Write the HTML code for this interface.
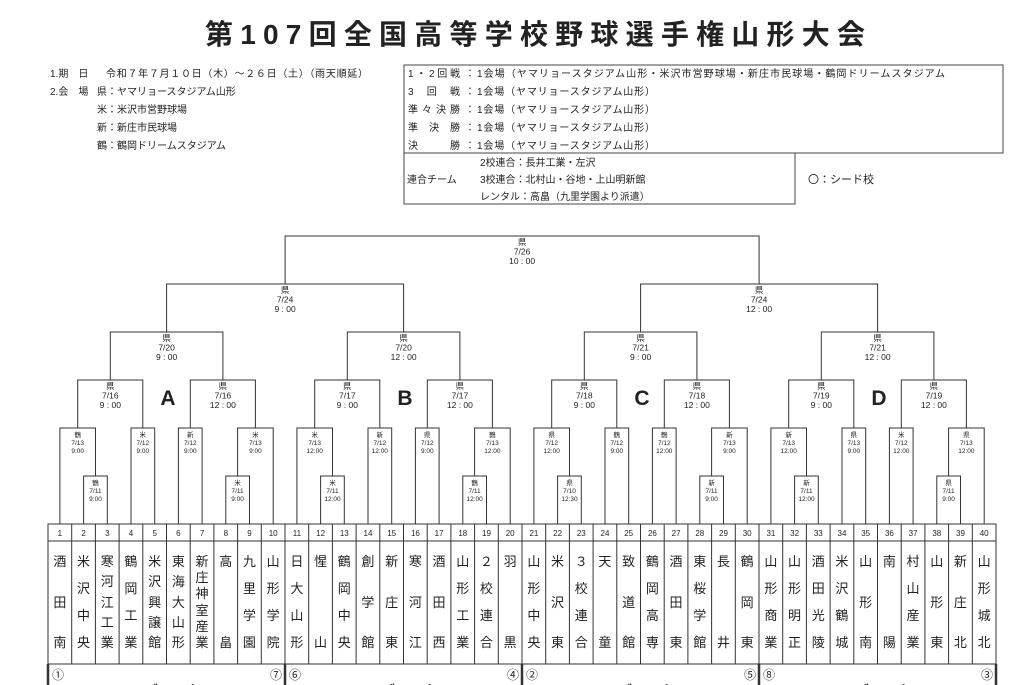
<!DOCTYPE html>
<html><head><meta charset="utf-8">
<style>
html,body{margin:0;padding:0;background:#fff;}
body{width:1030px;height:685px;overflow:hidden;position:relative;font-family:"Liberation Sans","Noto Sans CJK JP",sans-serif;color:#222;}
svg{position:absolute;left:0;top:0;}
svg text{font-family:"Liberation Sans","Noto Sans CJK JP",sans-serif;fill:#222;}
.s{font-size:6.5px;text-anchor:middle;}
.m{font-size:8.5px;text-anchor:middle;}
.num{font-size:8px;text-anchor:middle;}
.t{font-size:10px;}
.c{position:absolute;top:555px;height:95px;width:23.7px;display:flex;flex-direction:column;justify-content:space-between;align-items:center;font-size:13px;line-height:14px;}
.c i{font-style:normal;display:block;}
</style></head><body>
<svg width="1030" height="685" viewBox="0 0 1030 685">
<text x="205" y="44" font-size="28" font-weight="bold" textLength="660" lengthAdjust="spacing">第107回全国高等学校野球選手権山形大会</text>

<g class="t">
<text class="t" x="50" y="77">1.期　日</text>
<text class="t" x="106" y="77" textLength="262" lengthAdjust="spacing">令和７年７月１０日（木）～２６日（土）（雨天順延）</text>
<text class="t" x="50" y="95">2.会　場</text>
<text class="t" x="97" y="95">県：ヤマリョースタジアム山形</text>
<text class="t" x="97" y="113">米：米沢市営野球場</text>
<text class="t" x="97" y="131">新：新庄市民球場</text>
<text class="t" x="97" y="149">鶴：鶴岡ドリームスタジアム</text>
</g>

<path d="M404 65H1003V153H404Z M404 153V204H795V153" fill="none" stroke="#444" stroke-width="1"/>
<text class="t" x="408" y="77" textLength="52" lengthAdjust="spacing">1・2回戦</text>
<text class="t" x="408" y="95" textLength="52" lengthAdjust="spacing">3　回　戦</text>
<text class="t" x="408" y="113" textLength="52" lengthAdjust="spacing">準々決勝</text>
<text class="t" x="408" y="131" textLength="52" lengthAdjust="spacing">準　決　勝</text>
<text class="t" x="408" y="149" textLength="52" lengthAdjust="spacing">決　　　勝</text>
<text class="t" x="465" y="77">：</text><text class="t" x="465" y="95">：</text><text class="t" x="465" y="113">：</text><text class="t" x="465" y="131">：</text><text class="t" x="465" y="149">：</text>
<text class="t" x="477" y="77" textLength="468" lengthAdjust="spacing">1会場（ヤマリョースタジアム山形・米沢市営野球場・新庄市民球場・鶴岡ドリームスタジアム</text>
<text class="t" x="477" y="95" textLength="178" lengthAdjust="spacing">1会場（ヤマリョースタジアム山形）</text>
<text class="t" x="477" y="113" textLength="178" lengthAdjust="spacing">1会場（ヤマリョースタジアム山形）</text>
<text class="t" x="477" y="131" textLength="178" lengthAdjust="spacing">1会場（ヤマリョースタジアム山形）</text>
<text class="t" x="477" y="149" textLength="178" lengthAdjust="spacing">1会場（ヤマリョースタジアム山形）</text>
<text class="t" x="407" y="183">連合チーム</text>
<text class="t" x="480" y="166">2校連合：長井工業・左沢</text>
<text class="t" x="480" y="183">3校連合：北村山・谷地・上山明新館</text>
<text class="t" x="480" y="200">レンタル：高畠（九里学園より派遣）</text>
<text x="808" y="183" font-size="11">〇：シード校</text>

<g fill="none" stroke="#333" stroke-width="1">
<path id="gA" d="M83.6 524V476H107.3V524 M225.8 524V476H249.5V524 M59.9 524V428H95.5V476 M131 524V428H154.7V524 M178.4 524V428H202.1V524 M237.6 476V428H273.2V524 M77.7 428V380H142.8V428 M190.3 428V380H255.4V428 M110.3 380V332H222.9V380"/>
<use href="#gA" transform="translate(237,0)"/>
<use href="#gA" transform="translate(474,0)"/>
<use href="#gA" transform="translate(711,0)"/>
<path d="M166.6 332V284H403.6V332 M640.6 332V284H877.6V332 M285.1 284V236H759.1V284"/>
<path d="M48 524H996V664H48Z M48 541H996 M71.7 524V664 M95.4 524V664 M119.1 524V664 M142.8 524V664 M166.5 524V664 M190.2 524V664 M213.9 524V664 M237.6 524V664 M261.3 524V664 M285 524V664 M308.7 524V664 M332.4 524V664 M356.1 524V664 M379.8 524V664 M403.5 524V664 M427.2 524V664 M450.9 524V664 M474.6 524V664 M498.3 524V664 M522 524V664 M545.7 524V664 M569.4 524V664 M593.1 524V664 M616.8 524V664 M640.5 524V664 M664.2 524V664 M687.9 524V664 M711.6 524V664 M735.3 524V664 M759 524V664 M782.7 524V664 M806.4 524V664 M830.1 524V664 M853.8 524V664 M877.5 524V664 M901.2 524V664 M924.9 524V664 M948.6 524V664 M972.3 524V664"/>
<path d="M48 664V685 M285 664V685 M522 664V685 M759 664V685 M996 664V685" stroke-width="2.5"/>
</g>

<g font-size="21" font-weight="bold" text-anchor="middle">
<text x="168" y="405">A</text><text x="405" y="405">B</text><text x="642" y="405">C</text><text x="879" y="405">D</text>
</g>

<text class="m" x="522.1" y="245">県<tspan x="522.1" dy="9.5">7/26</tspan><tspan x="522.1" dy="9.5">10 : 00</tspan></text>
<text class="m" x="285.1" y="293">県<tspan x="285.1" dy="9.5">7/24</tspan><tspan x="285.1" dy="9.5">9 : 00</tspan></text>
<text class="m" x="759.1" y="293">県<tspan x="759.1" dy="9.5">7/24</tspan><tspan x="759.1" dy="9.5">12 : 00</tspan></text>
<text class="m" x="166.6" y="341">県<tspan x="166.6" dy="9.5">7/20</tspan><tspan x="166.6" dy="9.5">9 : 00</tspan></text>
<text class="m" x="403.6" y="341">県<tspan x="403.6" dy="9.5">7/20</tspan><tspan x="403.6" dy="9.5">12 : 00</tspan></text>
<text class="m" x="640.6" y="341">県<tspan x="640.6" dy="9.5">7/21</tspan><tspan x="640.6" dy="9.5">9 : 00</tspan></text>
<text class="m" x="877.6" y="341">県<tspan x="877.6" dy="9.5">7/21</tspan><tspan x="877.6" dy="9.5">12 : 00</tspan></text>
<text class="m" x="110.3" y="389">県<tspan x="110.3" dy="9.5">7/16</tspan><tspan x="110.3" dy="9.5">9 : 00</tspan></text>
<text class="m" x="222.9" y="389">県<tspan x="222.9" dy="9.5">7/16</tspan><tspan x="222.9" dy="9.5">12 : 00</tspan></text>
<text class="m" x="347.3" y="389">県<tspan x="347.3" dy="9.5">7/17</tspan><tspan x="347.3" dy="9.5">9 : 00</tspan></text>
<text class="m" x="459.9" y="389">県<tspan x="459.9" dy="9.5">7/17</tspan><tspan x="459.9" dy="9.5">12 : 00</tspan></text>
<text class="m" x="584.3" y="389">県<tspan x="584.3" dy="9.5">7/18</tspan><tspan x="584.3" dy="9.5">9 : 00</tspan></text>
<text class="m" x="696.9" y="389">県<tspan x="696.9" dy="9.5">7/18</tspan><tspan x="696.9" dy="9.5">12 : 00</tspan></text>
<text class="m" x="821.3" y="389">県<tspan x="821.3" dy="9.5">7/19</tspan><tspan x="821.3" dy="9.5">9 : 00</tspan></text>
<text class="m" x="933.9" y="389">県<tspan x="933.9" dy="9.5">7/19</tspan><tspan x="933.9" dy="9.5">12 : 00</tspan></text>
<text class="s" x="77.7" y="437">鶴<tspan x="77.7" dy="8">7/13</tspan><tspan x="77.7" dy="8">9:00</tspan></text>
<text class="s" x="142.8" y="437">米<tspan x="142.8" dy="8">7/12</tspan><tspan x="142.8" dy="8">9:00</tspan></text>
<text class="s" x="190.3" y="437">新<tspan x="190.3" dy="8">7/12</tspan><tspan x="190.3" dy="8">9:00</tspan></text>
<text class="s" x="255.4" y="437">米<tspan x="255.4" dy="8">7/13</tspan><tspan x="255.4" dy="8">9:00</tspan></text>
<text class="s" x="314.7" y="437">米<tspan x="314.7" dy="8">7/13</tspan><tspan x="314.7" dy="8">12:00</tspan></text>
<text class="s" x="379.8" y="437">新<tspan x="379.8" dy="8">7/12</tspan><tspan x="379.8" dy="8">12:00</tspan></text>
<text class="s" x="427.3" y="437">県<tspan x="427.3" dy="8">7/12</tspan><tspan x="427.3" dy="8">9:00</tspan></text>
<text class="s" x="492.4" y="437">鶴<tspan x="492.4" dy="8">7/13</tspan><tspan x="492.4" dy="8">12:00</tspan></text>
<text class="s" x="551.7" y="437">県<tspan x="551.7" dy="8">7/12</tspan><tspan x="551.7" dy="8">12:00</tspan></text>
<text class="s" x="616.8" y="437">鶴<tspan x="616.8" dy="8">7/12</tspan><tspan x="616.8" dy="8">9:00</tspan></text>
<text class="s" x="664.3" y="437">鶴<tspan x="664.3" dy="8">7/12</tspan><tspan x="664.3" dy="8">12:00</tspan></text>
<text class="s" x="729.4" y="437">新<tspan x="729.4" dy="8">7/13</tspan><tspan x="729.4" dy="8">9:00</tspan></text>
<text class="s" x="788.7" y="437">新<tspan x="788.7" dy="8">7/13</tspan><tspan x="788.7" dy="8">12:00</tspan></text>
<text class="s" x="853.8" y="437">県<tspan x="853.8" dy="8">7/13</tspan><tspan x="853.8" dy="8">9:00</tspan></text>
<text class="s" x="901.3" y="437">米<tspan x="901.3" dy="8">7/12</tspan><tspan x="901.3" dy="8">12:00</tspan></text>
<text class="s" x="966.4" y="437">県<tspan x="966.4" dy="8">7/13</tspan><tspan x="966.4" dy="8">12:00</tspan></text>
<text class="s" x="95.5" y="485">鶴<tspan x="95.5" dy="8">7/11</tspan><tspan x="95.5" dy="8">9:00</tspan></text>
<text class="s" x="237.6" y="485">米<tspan x="237.6" dy="8">7/11</tspan><tspan x="237.6" dy="8">9:00</tspan></text>
<text class="s" x="332.5" y="485">米<tspan x="332.5" dy="8">7/11</tspan><tspan x="332.5" dy="8">12:00</tspan></text>
<text class="s" x="474.6" y="485">鶴<tspan x="474.6" dy="8">7/11</tspan><tspan x="474.6" dy="8">12:00</tspan></text>
<text class="s" x="569.5" y="485">県<tspan x="569.5" dy="8">7/10</tspan><tspan x="569.5" dy="8">12:30</tspan></text>
<text class="s" x="711.6" y="485">新<tspan x="711.6" dy="8">7/11</tspan><tspan x="711.6" dy="8">9:00</tspan></text>
<text class="s" x="806.5" y="485">新<tspan x="806.5" dy="8">7/11</tspan><tspan x="806.5" dy="8">12:00</tspan></text>
<text class="s" x="948.6" y="485">県<tspan x="948.6" dy="8">7/11</tspan><tspan x="948.6" dy="8">9:00</tspan></text>

<g class="num">
<text class="num" x="59.9" y="536">1</text><text class="num" x="83.6" y="536">2</text><text class="num" x="107.3" y="536">3</text><text class="num" x="131" y="536">4</text><text class="num" x="154.7" y="536">5</text><text class="num" x="178.4" y="536">6</text><text class="num" x="202.1" y="536">7</text><text class="num" x="225.8" y="536">8</text><text class="num" x="249.5" y="536">9</text><text class="num" x="273.2" y="536">10</text>
<text class="num" x="296.9" y="536">11</text><text class="num" x="320.6" y="536">12</text><text class="num" x="344.3" y="536">13</text><text class="num" x="368" y="536">14</text><text class="num" x="391.7" y="536">15</text><text class="num" x="415.4" y="536">16</text><text class="num" x="439.1" y="536">17</text><text class="num" x="462.8" y="536">18</text><text class="num" x="486.5" y="536">19</text><text class="num" x="510.2" y="536">20</text>
<text class="num" x="533.9" y="536">21</text><text class="num" x="557.6" y="536">22</text><text class="num" x="581.3" y="536">23</text><text class="num" x="605" y="536">24</text><text class="num" x="628.7" y="536">25</text><text class="num" x="652.4" y="536">26</text><text class="num" x="676.1" y="536">27</text><text class="num" x="699.8" y="536">28</text><text class="num" x="723.5" y="536">29</text><text class="num" x="747.2" y="536">30</text>
<text class="num" x="770.9" y="536">31</text><text class="num" x="794.6" y="536">32</text><text class="num" x="818.3" y="536">33</text><text class="num" x="842" y="536">34</text><text class="num" x="865.7" y="536">35</text><text class="num" x="889.4" y="536">36</text><text class="num" x="913.1" y="536">37</text><text class="num" x="936.8" y="536">38</text><text class="num" x="960.5" y="536">39</text><text class="num" x="984.2" y="536">40</text>
</g>

<g font-size="12">
<text x="52" y="679">①</text><text x="270" y="679">⑦</text>
<text x="289" y="679">⑥</text><text x="507" y="679">④</text>
<text x="526" y="679">②</text><text x="744" y="679">⑤</text>
<text x="763" y="679">⑧</text><text x="981" y="679">③</text>
</g>
<g font-size="14" font-weight="bold" text-anchor="middle">
<text x="167" y="696">Aブロック</text><text x="404" y="696">Bブロック</text><text x="641" y="696">Cブロック</text><text x="878" y="696">Dブロック</text>
</g>
</svg>

<div class="c" style="left:48px"><i>酒</i><i>田</i><i>南</i></div>
<div class="c" style="left:71.7px"><i>米</i><i>沢</i><i>中</i><i>央</i></div>
<div class="c" style="left:95.4px"><i>寒</i><i>河</i><i>江</i><i>工</i><i>業</i></div>
<div class="c" style="left:119.1px"><i>鶴</i><i>岡</i><i>工</i><i>業</i></div>
<div class="c" style="left:142.8px"><i>米</i><i>沢</i><i>興</i><i>譲</i><i>館</i></div>
<div class="c" style="left:166.5px"><i>東</i><i>海</i><i>大</i><i>山</i><i>形</i></div>
<div class="c" style="left:190.2px"><i>新</i><i>庄</i><i>神</i><i>室</i><i>産</i><i>業</i></div>
<div class="c" style="left:213.9px"><i>高</i><i>畠</i></div>
<div class="c" style="left:237.6px"><i>九</i><i>里</i><i>学</i><i>園</i></div>
<div class="c" style="left:261.3px"><i>山</i><i>形</i><i>学</i><i>院</i></div>
<div class="c" style="left:285px"><i>日</i><i>大</i><i>山</i><i>形</i></div>
<div class="c" style="left:308.7px"><i>惺</i><i>山</i></div>
<div class="c" style="left:332.4px"><i>鶴</i><i>岡</i><i>中</i><i>央</i></div>
<div class="c" style="left:356.1px"><i>創</i><i>学</i><i>館</i></div>
<div class="c" style="left:379.8px"><i>新</i><i>庄</i><i>東</i></div>
<div class="c" style="left:403.5px"><i>寒</i><i>河</i><i>江</i></div>
<div class="c" style="left:427.2px"><i>酒</i><i>田</i><i>西</i></div>
<div class="c" style="left:450.9px"><i>山</i><i>形</i><i>工</i><i>業</i></div>
<div class="c" style="left:474.6px"><i>２</i><i>校</i><i>連</i><i>合</i></div>
<div class="c" style="left:498.3px"><i>羽</i><i>黒</i></div>
<div class="c" style="left:522px"><i>山</i><i>形</i><i>中</i><i>央</i></div>
<div class="c" style="left:545.7px"><i>米</i><i>沢</i><i>東</i></div>
<div class="c" style="left:569.4px"><i>３</i><i>校</i><i>連</i><i>合</i></div>
<div class="c" style="left:593.1px"><i>天</i><i>童</i></div>
<div class="c" style="left:616.8px"><i>致</i><i>道</i><i>館</i></div>
<div class="c" style="left:640.5px"><i>鶴</i><i>岡</i><i>高</i><i>専</i></div>
<div class="c" style="left:664.2px"><i>酒</i><i>田</i><i>東</i></div>
<div class="c" style="left:687.9px"><i>東</i><i>桜</i><i>学</i><i>館</i></div>
<div class="c" style="left:711.6px"><i>長</i><i>井</i></div>
<div class="c" style="left:735.3px"><i>鶴</i><i>岡</i><i>東</i></div>
<div class="c" style="left:759px"><i>山</i><i>形</i><i>商</i><i>業</i></div>
<div class="c" style="left:782.7px"><i>山</i><i>形</i><i>明</i><i>正</i></div>
<div class="c" style="left:806.4px"><i>酒</i><i>田</i><i>光</i><i>陵</i></div>
<div class="c" style="left:830.1px"><i>米</i><i>沢</i><i>鶴</i><i>城</i></div>
<div class="c" style="left:853.8px"><i>山</i><i>形</i><i>南</i></div>
<div class="c" style="left:877.5px"><i>南</i><i>陽</i></div>
<div class="c" style="left:901.2px"><i>村</i><i>山</i><i>産</i><i>業</i></div>
<div class="c" style="left:924.9px"><i>山</i><i>形</i><i>東</i></div>
<div class="c" style="left:948.6px"><i>新</i><i>庄</i><i>北</i></div>
<div class="c" style="left:972.3px"><i>山</i><i>形</i><i>城</i><i>北</i></div>
</body></html>
